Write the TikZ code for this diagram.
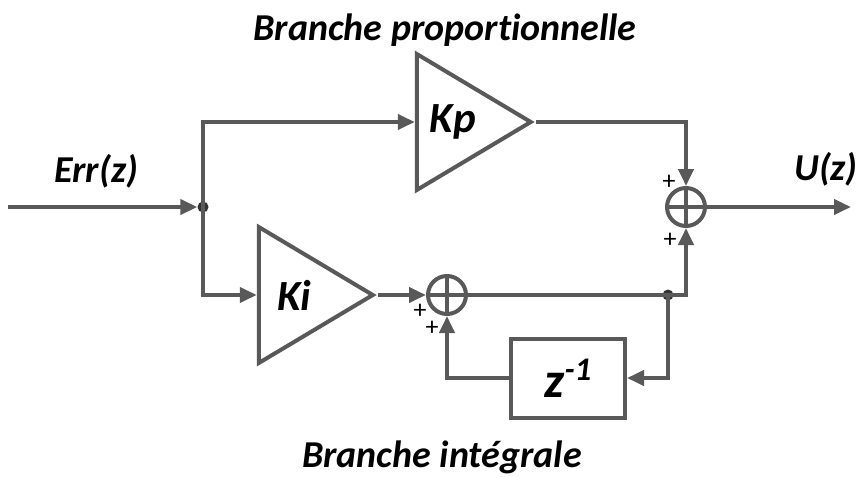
\documentclass[tikz,border=0pt]{standalone}
\usepackage{fontspec}
\setmainfont{Carlito}[Ligatures=NoCommon]
\usepackage{tikz}
\usetikzlibrary{arrows.meta,shapes.geometric}

\begin{document}
\begin{tikzpicture}[x=1pt,y=-1pt,
    wire/.style={draw=linegray,line width=4pt},
    arr/.style={-{Triangle[length=17pt,width=15pt]}},
    gain/.style={isosceles triangle,isosceles triangle stretches,draw=linegray,line width=4pt,
      minimum height=114pt,minimum width=136pt,inner sep=0pt,anchor=apex,
      font=\fontsize{43}{46}\selectfont\bfseries\itshape},
    sumnode/.style={circle,draw=linegray,line width=4pt,minimum size=38pt,inner sep=0pt,
      path picture={\draw[linegray,line width=4pt] (path picture bounding box.north) -- (path picture bounding box.south)
        (path picture bounding box.west) -- (path picture bounding box.east);}},
    tap/.style={circle,fill=black!80,inner sep=0pt,minimum size=11pt},
    lbl/.style={font=\fontsize{38}{42}\selectfont\bfseries\itshape},
    sign/.style={font=\fontsize{26}{28}\selectfont,inner sep=0pt}]

  \definecolor{linegray}{HTML}{595959}
  \useasboundingbox (0,0) rectangle (860,477);

  \coordinate (in) at (8,207); %
  \coordinate (out) at (851,207); %
  \node[tap] (split) at (203,207) {}; %

  \node[gain] (kp) at (536,122) {Kp}; %
  \node[gain] (ki) at (378,295) {Ki}; %

  \node[sumnode] (sum-p) at (686,207) {}; %
  \node[sumnode] (sum-i) at (447,295) {}; %
  \node[tap] (loop) at (668,295) {}; %

  \node[draw=linegray,line width=4pt,minimum width=114pt,minimum height=79pt,inner sep=0pt]
    (zinv) at (568,378) {\fontsize{50}{52}\selectfont\bfseries\itshape z\raisebox{17pt}{\fontsize{33}{34}\selectfont -1}}; %

  % forward path
  \draw[wire,arr] (in) -- (split.west);
  \draw[wire,arr] (split.center) |- (kp.west);
  \draw[wire,arr] (split.center) |- (ki.west);
  \draw[wire,arr] (kp.apex) -| (sum-p.north);
  \draw[wire,arr] (ki.apex) -- (sum-i.west);
  \draw[wire] (sum-i.east) -- (loop.center);
  \draw[wire,arr] (loop.center) -| (sum-p.south);
  \draw[wire,arr] (sum-p.east) -- (out);

  % accumulator loop
  \draw[wire,arr] (loop.center) |- (zinv.east);
  \draw[wire,arr] (zinv.west) -| (sum-i.south);

  \node[sign] (s1) at (669,182) {+}; %
  \node[sign] (s2) at (670,240) {+}; %
  \node[sign] (s3) at (420,311) {+}; %
  \node[sign] (s4) at (432,328) {+}; %

  \node[lbl] (t-prop) at (445,30) {Branche proportionnelle};
  \node[lbl] (t-int) at (442,457) {Branche intégrale};
  \node[lbl] (t-err) at (96,171) {Err(z)};
  \node[lbl] (t-out) at (826,169) {U(z)};

\end{tikzpicture}
\end{document}
